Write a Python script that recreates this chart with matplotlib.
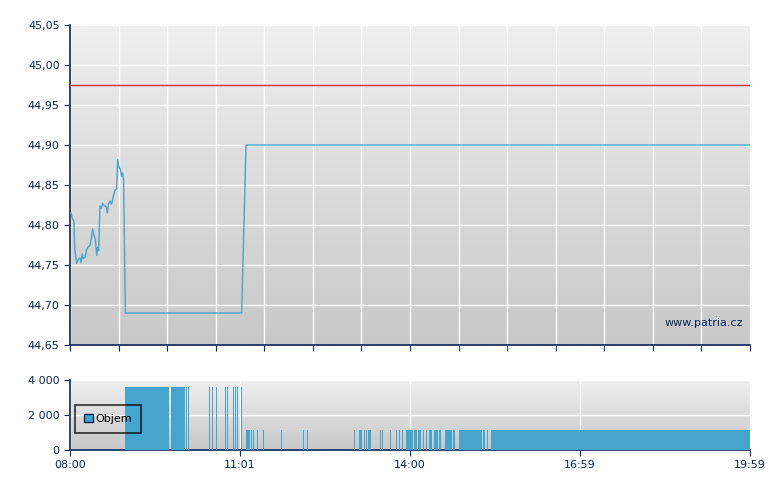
#!/usr/bin/env python3
"""Intraday price + volume chart (patria.cz style)"""
import numpy as np
import matplotlib
matplotlib.use("Agg")
import matplotlib.pyplot as plt
from matplotlib.colors import LinearSegmentedColormap
from matplotlib.patches import Patch
from matplotlib.ticker import FuncFormatter

# price line: minutes after 08:00 and price
price_min = [0, 1, 2.8, 4.2, 4.9, 7.0, 8.8, 10.6, 11.6, 13.0, 14.1, 15.9, 17.6,
             19.4, 21.1, 22.9, 24.0, 25.4, 26.8, 28.2, 29.3, 30.3, 31.7, 33.1,
             34.5, 36.3, 38.1, 39.5, 40.5, 42.3, 44.1, 45.8, 47.6, 49.3, 50.4,
             51.8, 53.2, 54.6, 55.7, 56.7, 58.5, 181.5, 186.1, 719]
price_val = [44.815, 44.815, 44.807, 44.805, 44.771, 44.752, 44.757, 44.759,
             44.753, 44.764, 44.758, 44.760, 44.769, 44.773, 44.774, 44.786,
             44.795, 44.787, 44.782, 44.762, 44.772, 44.768, 44.824, 44.821,
             44.827, 44.824, 44.823, 44.815, 44.826, 44.830, 44.826, 44.836,
             44.844, 44.845, 44.882, 44.872, 44.870, 44.861, 44.865, 44.855,
             44.690, 44.690, 44.900, 44.900]
ref_price = 44.975

# volume blocks: start / end minute and volume
vol_start = [58, 107, 123, 125, 147, 150, 154, 164, 166.5, 172, 174.5, 176.5, 180.5,
             186, 191.5, 194, 197.5, 204, 223, 246.5, 250.5, 300.5, 306, 310.5,
             313.5, 315, 328, 330, 338, 344.5, 348, 351, 355, 363.5, 368, 373,
             376, 380, 385, 390, 396, 405, 411, 437, 440.5, 445]
vol_end = [105, 122, 124, 126, 148, 151, 155, 165, 167.5, 173, 175.5, 177.5, 181.5,
           190.5, 192.5, 195, 198.5, 205, 224, 247.5, 251.5, 301.5, 309, 311.5,
           314.5, 318, 329, 331, 339, 345.5, 349, 352, 363, 367, 371, 374.5,
           377.5, 383, 389, 392, 404, 407, 435.5, 439, 442.5, 719]
vol_val = [3600] * 13 + [1150] * 33

main_grid = np.linspace(0, 719, 15)
vol_ticks = [0, 179.75, 359.5, 539.25, 719]
vol_labels = ["08:00", "11:01", "14:00", "16:59", "19:59"]

navy = "#0b2457"
blue = "#45a5cd"
bg_cmap = LinearSegmentedColormap.from_list("bg", ["#efefef", "#c8c8c8"])

fig = plt.figure(figsize=(7.8, 4.9), dpi=100)
ax = fig.add_axes([70 / 780, 1 - 345 / 490, 680 / 780, 320 / 490])
axv = fig.add_axes([70 / 780, 1 - 450 / 490, 680 / 780, 70 / 490])


def gradient_bg(a):
    grad = np.linspace(0, 1, 256).reshape(-1, 1)
    # origin upper: first row (light) at the top
    a.imshow(grad, aspect="auto", cmap=bg_cmap, origin="upper",
             extent=[0, 1, 0, 1], transform=a.transAxes, zorder=0)


def style(a):
    for s in ["top", "right"]:
        a.spines[s].set_visible(False)
    for s in ["left", "bottom"]:
        a.spines[s].set_color(navy)
        a.spines[s].set_linewidth(1.2)
    a.tick_params(colors=navy, labelcolor=navy, labelsize=8, length=4, direction="out")
    a.grid(True, color="white", linewidth=1)
    a.set_axisbelow(True)


# price chart
gradient_bg(ax)
style(ax)
ax.plot(price_min, price_val, color=blue, linewidth=1, zorder=3)
ax.axhline(ref_price, color="#d83030", linewidth=1, zorder=3)
ax.set_xlim(0, 719)
ax.set_ylim(44.65, 45.05)
ax.set_xticks(main_grid)
ax.set_xticklabels([])
ax.set_yticks(np.arange(44.65, 45.051, 0.05))
ax.yaxis.set_major_formatter(FuncFormatter(lambda v, p: f"{v:.2f}".replace(".", ",")))
ax.text(0.99, 0.07, "www.patria.cz", transform=ax.transAxes, ha="right", va="center",
        color=navy, fontsize=8, zorder=4)

# volume chart
gradient_bg(axv)
style(axv)
widths = [e - s for s, e in zip(vol_start, vol_end)]
axv.bar(vol_start, vol_val, width=widths, align="edge", color=blue, linewidth=0, zorder=3)
axv.set_xlim(0, 719)
axv.set_ylim(0, 4000)
axv.set_yticks([0, 2000, 4000])
axv.yaxis.set_major_formatter(FuncFormatter(lambda v, p: f"{int(v):,}".replace(",", " ")))
axv.set_xticks(vol_ticks)
axv.set_xticklabels(vol_labels)

leg = axv.legend(handles=[Patch(facecolor=blue, edgecolor=navy, linewidth=1)], labels=["Objem"],
                 loc="upper left", bbox_to_anchor=(0.007, 0.643), borderaxespad=0,
                 fancybox=False, facecolor="none", edgecolor="black", fontsize=8,
                 handlelength=0.8, handleheight=0.8, handletextpad=0.25,
                 borderpad=0.8)
leg.get_frame().set_linewidth(1.2)
leg.set_zorder(5)

fig.savefig("out.png", dpi=100)
